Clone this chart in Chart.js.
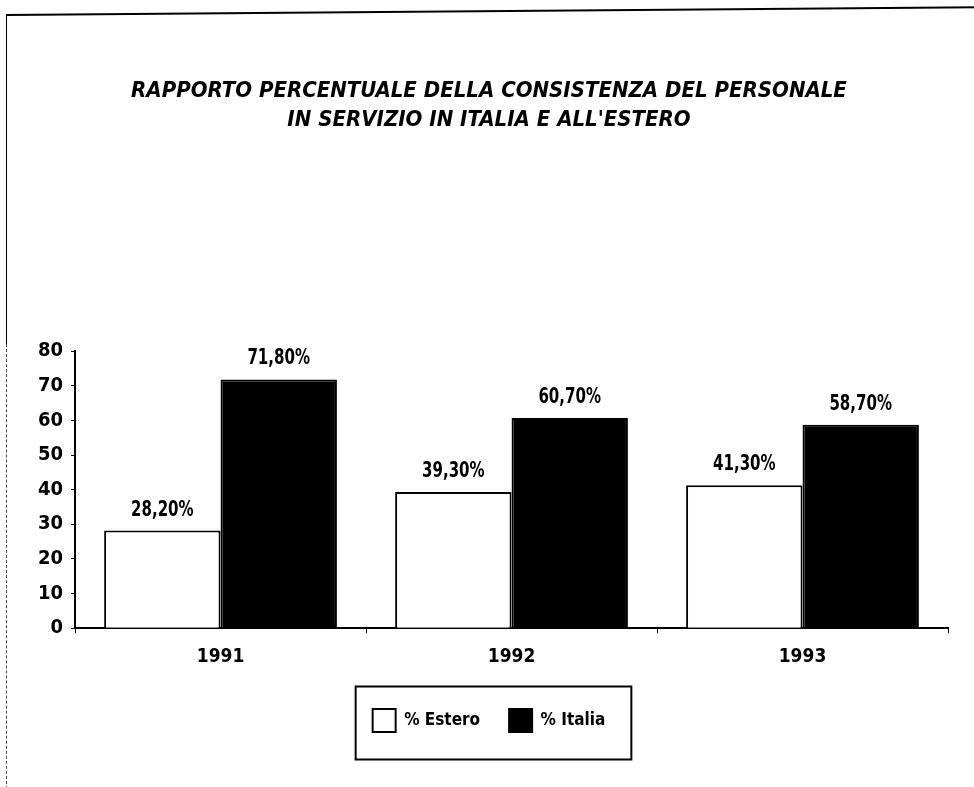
<!DOCTYPE html>
<html>
<head>
<meta charset="utf-8">
<script src="https://cdn.jsdelivr.net/npm/chart.js@4.4.1/dist/chart.umd.min.js"></script>
<style>
  html, body { margin: 0; padding: 0; background: #fff; overflow: hidden; }
  #wrap { position: absolute; left: 0; top: 0; width: 974px; height: 787px; }
  .frame-top { position: absolute; left: 6px; top: 14px; width: 972px; border-top: 2px solid #000; transform-origin: 0 0; transform: rotate(-0.45deg); }
  .frame-left { position: absolute; left: 6px; top: 14px; height: 330px; border-left: 1px solid #000; }
  .frame-left2 { position: absolute; left: 6px; top: 344px; height: 450px; border-left: 1px dashed #444; }
</style>
</head>
<body>
<div class="frame-top"></div>
<div class="frame-left"></div>
<div class="frame-left2"></div>
<div id="wrap"><canvas id="chart"></canvas></div>
<script>
const years = ['1991', '1992', '1993'];
const estero = [28.2, 39.3, 41.3];
const italia = [71.8, 60.7, 58.7];
const seriesNames = ['% Estero', '% Italia'];
const yTicks = [0, 10, 20, 30, 40, 50, 60, 70, 80];
const titleLines = [
  'RAPPORTO PERCENTUALE DELLA CONSISTENZA DEL PERSONALE',
  "IN SERVIZIO IN ITALIA E ALL'ESTERO"
];

const narrow = '"DejaVu Sans Condensed", "Liberation Sans Narrow", sans-serif';

// 28.2 -> "28,20%"
const fmt = v => v.toFixed(2).replace('.', ',') + '%';

// value labels over each bar, squeezed a bit to look like the condensed original
const barLabels = {
  id: 'barLabels',
  afterDatasetsDraw(chart) {
    const ctx = chart.ctx;
    const sx = 0.76;
    ctx.save();
    ctx.font = 'bold 22px ' + narrow;
    ctx.fillStyle = '#000';
    ctx.textAlign = 'center';
    ctx.textBaseline = 'alphabetic';
    ctx.scale(sx, 1);
    chart.data.datasets.forEach((ds, i) => {
      chart.getDatasetMeta(i).data.forEach((bar, j) => {
        ctx.fillText(fmt(ds.data[j]), bar.x / sx, bar.y - 15);
      });
    });
    ctx.restore();
  }
};

// box round the legend items
const legendBox = {
  id: 'legendBox',
  afterDraw(chart) {
    const hb = chart.legend && chart.legend.legendHitBoxes;
    if (!hb || !hb.length) return;
    const l = Math.min(...hb.map(b => b.left)) - 17;
    const r = Math.max(...hb.map(b => b.left + b.width)) + 26;
    const mid = hb[0].top + hb[0].height / 2;
    const ctx = chart.ctx;
    ctx.save();
    ctx.strokeStyle = '#000';
    ctx.lineWidth = 2;
    ctx.strokeRect(l, mid - 34, r - l, 73);
    ctx.restore();
  }
};

new Chart(document.getElementById('chart'), {
  type: 'bar',
  data: {
    labels: years,
    datasets: [
      {
        label: seriesNames[0],
        data: estero,
        backgroundColor: '#fff',
        borderColor: '#000',
        borderWidth: 2
      },
      {
        label: seriesNames[1],
        data: italia,
        backgroundColor: '#000',
        borderColor: '#000',
        borderWidth: 2
      }
    ]
  },
  plugins: [barLabels, legendBox],
  options: {
    responsive: true,
    maintainAspectRatio: false,
    animation: false,
    datasets: {
      bar: { categoryPercentage: 0.8, barPercentage: 1.0 }
    },
    layout: { padding: { left: 30, right: 26, top: 0, bottom: 45 } },
    plugins: {
      title: {
        display: true,
        text: titleLines,
        color: '#000',
        font: { family: narrow, size: 22, weight: 'bold', style: 'italic', lineHeight: 1.32 },
        padding: { top: 77, bottom: 216 }
      },
      legend: {
        position: 'bottom',
        labels: {
          color: '#000',
          boxWidth: 23,
          boxHeight: 23,
          padding: 29,
          font: { family: narrow, size: 17, weight: 'bold' }
        }
      },
      tooltip: { enabled: false }
    },
    scales: {
      x: {
        grid: { display: true, drawOnChartArea: false, offset: true, color: '#000', tickLength: 5 },
        border: { color: '#000', width: 2 },
        ticks: { color: '#000', padding: 12, font: { family: narrow, size: 19, weight: 'bold' } }
      },
      y: {
        min: 0,
        max: 80,
        afterBuildTicks: s => { s.ticks = yTicks.map(v => ({ value: v })); },
        grid: { display: true, drawOnChartArea: false, color: '#000', tickLength: 4 },
        border: { color: '#000', width: 2 },
        ticks: { color: '#000', padding: 8, font: { family: narrow, size: 20, weight: 'bold' } }
      }
    }
  }
});
</script>
</body>
</html>
